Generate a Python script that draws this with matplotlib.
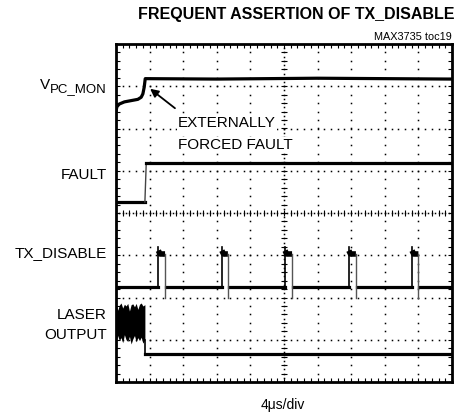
import numpy as np
import matplotlib
matplotlib.use('Agg')
import matplotlib.pyplot as plt

plt.rcParams['font.family'] = ['Liberation Sans', 'DejaVu Sans']

# 时间轴单位: 格 (div), 纵轴单位: 格
# V_PC_MON
vpc_t = [0, 0.03, 0.1, 0.25, 0.45, 0.65, 0.75, 0.8, 0.84, 0.87, 3.0, 6.0, 10]
vpc_v = [6.42, 6.52, 6.58, 6.63, 6.66, 6.69, 6.74, 6.82, 6.98, 7.18, 7.17, 7.19, 7.17]

# FAULT
fault_low, fault_high = 4.26, 5.18
fault_edge = 0.86

# TX_DISABLE
tx_low, tx_high, tx_spike, tx_under = 2.26, 3.03, 3.2, 2.0
tx_rise = [1.26, 3.15, 5.03, 6.93, 8.81]
tx_fall = [1.46, 3.33, 5.24, 7.14, 9.0]

# LASER OUTPUT
laser_t = [0, 0.05, 0.1, 0.15, 0.2, 0.25, 0.3, 0.35, 0.4, 0.45, 0.5, 0.55, 0.6, 0.65, 0.7, 0.75, 0.8, 0.86]
laser_top = [1.85, 1.7, 1.82, 1.87, 1.75, 1.84, 1.8, 1.86, 1.68, 1.83, 1.85, 1.78, 1.86, 1.72, 1.84, 1.87, 1.8, 1.83]
laser_bot = [0.95, 1.1, 0.98, 1.05, 0.93, 1.12, 1.0, 0.96, 1.08, 0.9, 1.02, 1.1, 0.95, 1.05, 0.98, 1.06, 0.92, 1.0]
laser_low = 0.66
laser_edge = 0.86

W, H = 466, 417
fig = plt.figure(figsize=(W / 100, H / 100), dpi=100)
ax = fig.add_axes([116 / W, 1 - 382 / H, 336 / W, 338 / H])
ax.set_xlim(0, 10)
ax.set_ylim(0, 8)

# 网格点
minor_x = np.arange(0.2, 10, 0.2)
minor_y = np.arange(0.2, 8, 0.2)
for k in range(1, 10):
    if k == 5:
        continue
    ax.plot([k] * len(minor_y), minor_y, 's', color='k', ms=1.1, mew=0)
for j in range(1, 8):
    if j == 4:
        continue
    ax.plot(minor_x, [j] * len(minor_x), 's', color='k', ms=1.1, mew=0)
# 中心线
ax.plot([5] * len(np.arange(0.1, 8, 0.1)), np.arange(0.1, 8, 0.1), 's', color='k', ms=1.1, mew=0)
ax.plot(np.arange(0.1, 10, 0.1), [4] * len(np.arange(0.1, 10, 0.1)), 's', color='k', ms=1.1, mew=0)
ax.plot([5] * len(minor_y), minor_y, '_', color='k', ms=5, mew=0.8)
ax.plot(minor_x, [4] * len(minor_x), '|', color='k', ms=5, mew=0.8)

lw = 2.3
# VPC_MON
ax.plot(vpc_t, vpc_v, color='k', lw=lw, zorder=5)
# FAULT
ax.plot([0, fault_edge], [fault_low, fault_low], color='k', lw=lw, zorder=5)
ax.plot([fault_edge, fault_edge + 0.04], [fault_low, fault_high], color='#444', lw=1, zorder=5)
ax.plot([fault_edge + 0.04, 10], [fault_high, fault_high], color='k', lw=lw, zorder=5)
# TX_DISABLE
starts = [0] + [f + 0.03 for f in tx_fall]
ends = tx_rise + [10]
for s, e in zip(starts, ends):
    ax.plot([s, e], [tx_low, tx_low], color='k', lw=lw, zorder=5)
for r, f in zip(tx_rise, tx_fall):
    ax.plot([r, r], [tx_low, tx_spike], color='k', lw=1.2, zorder=5)
    ax.plot([r, r + 0.05, f], [tx_high + 0.08, tx_high, tx_high], color='k', lw=4,
            solid_capstyle='butt', zorder=5)
    ax.plot([f, f], [tx_high, tx_under], color='#555', lw=1, zorder=5)
# LASER OUTPUT
ax.fill_between(laser_t, laser_bot, laser_top, color='k', lw=0, zorder=5)
ax.plot([laser_edge, laser_edge], [laser_bot[-1], laser_low], color='k', lw=1.2, zorder=5)
ax.plot([laser_edge, 10], [laser_low, laser_low], color='k', lw=lw, zorder=5)

# 刻度
ax.set_xticks(range(0, 11))
ax.set_yticks(range(0, 9))
ax.set_xticks(minor_x, minor=True)
ax.set_yticks(minor_y, minor=True)
ax.tick_params(which='both', direction='in', length=3, width=0.8,
               top=True, right=True, labelbottom=False, labelleft=False)
for sp in ax.spines.values():
    sp.set_linewidth(2)

# 标签
fs = 11
t1 = ax.text(-0.27, 6.93, 'PC_MON', ha='right', va='center', fontsize=9.5, clip_on=False)
ax.annotate('V', xy=(0, 0.25), xycoords=t1, ha='right', va='bottom', fontsize=fs)
ax.text(-0.27, 4.9, 'FAULT', ha='right', va='center', fontsize=fs, clip_on=False)
ax.text(-0.27, 3.05, 'TX_DISABLE', ha='right', va='center', fontsize=fs, clip_on=False)
ax.text(-0.27, 1.59, 'LASER', ha='right', va='center', fontsize=fs, clip_on=False)
ax.text(-0.27, 1.11, 'OUTPUT', ha='right', va='center', fontsize=fs, clip_on=False)

ax.text(1.85, 6.13, 'EXTERNALLY', ha='left', va='center', fontsize=fs, zorder=6,
        bbox=dict(facecolor='white', edgecolor='none', pad=0.5))
ax.text(1.85, 5.61, 'FORCED FAULT', ha='left', va='center', fontsize=fs, zorder=6,
        bbox=dict(facecolor='white', edgecolor='none', pad=0.5))
ax.annotate('', xy=(0.95, 6.98), xytext=(1.82, 6.44),
            arrowprops=dict(arrowstyle='-|>', color='k', lw=1.3, mutation_scale=12), zorder=6)

fig.text(455 / W, 1 - 15 / H, 'FREQUENT ASSERTION OF TX_DISABLE', ha='right', va='center',
         fontsize=11.5, fontweight='bold')
fig.text(452 / W, 1 - 37 / H, 'MAX3735 toc19', ha='right', va='center', fontsize=7.8)
fig.text(283 / W, 1 - 405 / H, '4\u03bcs/div', ha='center', va='center', fontsize=10)

fig.savefig('out.png', dpi=100)
